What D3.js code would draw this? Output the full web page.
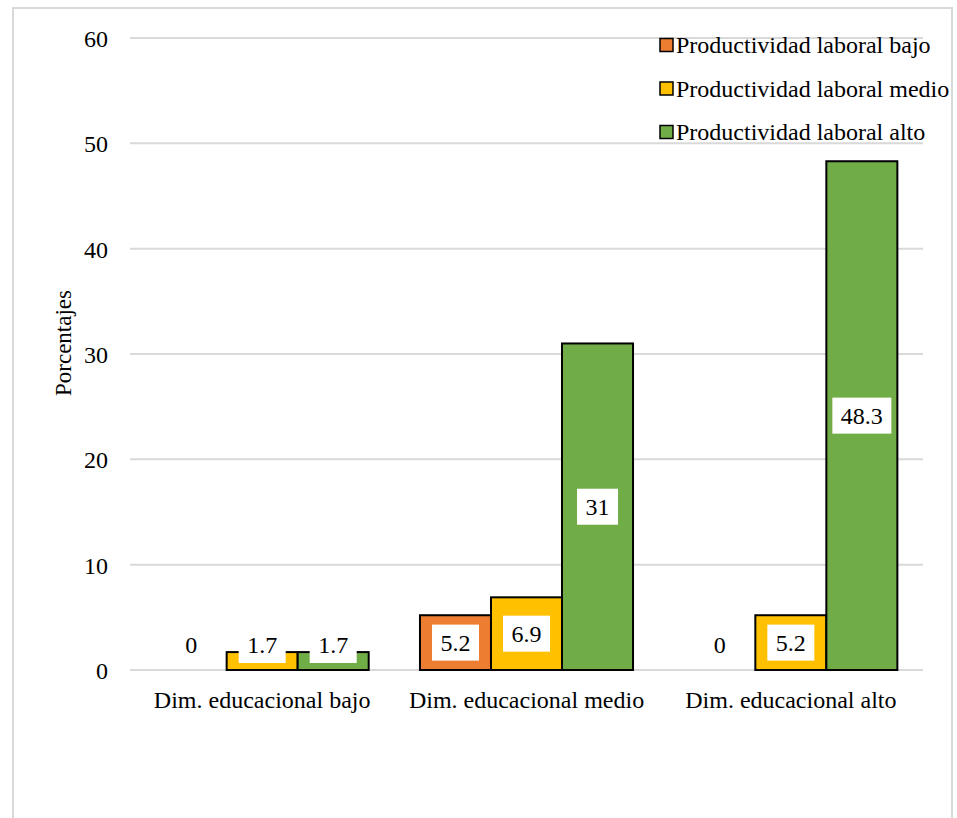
<!DOCTYPE html>
<html>
<head>
<meta charset="utf-8">
<script src="https://cdn.jsdelivr.net/npm/d3@7"></script>
<style>
  html, body { margin: 0; padding: 0; background: #fff; }
  svg { display: block; }
  text { font-family: "Liberation Serif", "Times New Roman", serif; fill: #000; }
</style>
</head>
<body>
<svg id="chart" width="957" height="818"></svg>
<script>
const categories = ["Dim. educacional bajo", "Dim. educacional medio", "Dim. educacional alto"];
const seriesNames = ["Productividad laboral bajo", "Productividad laboral medio", "Productividad laboral alto"];
const valuesBajo = [0, 5.2, 0];
const valuesMedio = [1.7, 6.9, 5.2];
const valuesAlto = [1.7, 31, 48.3];
const yTicks = [0, 10, 20, 30, 40, 50, 60];
const colors = ["#ED7D31", "#FFC000", "#70AD47"];

const seriesValues = [valuesBajo, valuesMedio, valuesAlto];
const svg = d3.select("#chart");
const FONT = '"Liberation Serif", "Times New Roman", serif';

// outer border
svg.append("rect").attr("x", 13).attr("y", 8).attr("width", 939).attr("height", 830)
  .attr("fill", "#fff").attr("stroke", "#d9d9d9").attr("stroke-width", 2);

const plot = { left: 130, right: 923, top: 38, bottom: 670 };

const y = d3.scaleLinear().domain([0, 60]).range([plot.bottom, plot.top]);
const x0 = d3.scaleBand().domain(categories).range([plot.left, plot.right])
  .paddingInner(0.194).paddingOuter(0.097);
const x1 = d3.scaleBand().domain(seriesNames).range([0, x0.bandwidth()]).padding(0);

// gridlines
svg.append("g").selectAll("line").data(yTicks).join("line")
  .attr("x1", plot.left).attr("x2", plot.right)
  .attr("y1", d => y(d)).attr("y2", d => y(d))
  .attr("stroke", "#d9d9d9").attr("stroke-width", 2);

// y axis labels
const yAxis = d3.axisLeft(y).tickValues(yTicks).tickSize(0).tickPadding(0);
const gy = svg.append("g").attr("transform", `translate(108,0)`).call(yAxis);
gy.attr("font-family", null).attr("font-size", null);
gy.select(".domain").remove();
gy.selectAll("text").style("font-family", FONT).style("font-size", "24px").attr("fill", "#000").attr("dy", "0.35em");

// x axis labels
const xAxis = d3.axisBottom(x0).tickSize(0).tickPadding(0);
const gx = svg.append("g").attr("transform", `translate(0,${plot.bottom})`).call(xAxis);
gx.attr("font-family", null).attr("font-size", null);
gx.select(".domain").remove();
gx.selectAll("text").style("font-family", FONT).style("font-size", "24px")
  .attr("fill", "#000").attr("y", 30).attr("dy", "0.35em");

// y axis title
svg.append("text").attr("transform", `translate(63,343) rotate(-90)`)
  .attr("text-anchor", "middle").attr("dy", "0.35em").style("font-family", FONT).style("font-size", "23px").text("Porcentajes");

// bars
const data = [];
categories.forEach((c, ci) => seriesNames.forEach((s, si) => data.push({ c, s, si, v: seriesValues[si][ci] })));

const bars = svg.append("g");
bars.selectAll("rect").data(data.filter(d => d.v > 0)).join("rect")
  .attr("x", d => x0(d.c) + x1(d.s))
  .attr("y", d => y(d.v))
  .attr("width", x1.bandwidth())
  .attr("height", d => y(0) - y(d.v))
  .attr("fill", d => colors[d.si])
  .attr("stroke", "#000").attr("stroke-width", 2);

// labels
const lg = svg.append("g");
data.forEach(d => {
  const cx = x0(d.c) + x1(d.s) + x1.bandwidth() / 2;
  let cy = (y(d.v) + y(0)) / 2;
  cy = Math.min(cy, plot.bottom - 25);
  const g = lg.append("g");
  const t = g.append("text").attr("x", cx).attr("y", cy).attr("text-anchor", "middle")
    .attr("dy", "0.35em").style("font-family", FONT).style("font-size", "24px").text(d.v);
  if (d.v > 0) {
    const bb = t.node().getBBox();
    const w = bb.width + 17;
    g.insert("rect", "text").attr("x", cx - w / 2).attr("y", cy - 18).attr("width", w).attr("height", 36)
      .attr("fill", "#fff");
  }
});

// legend
const leg = svg.append("g");
seriesNames.forEach((s, i) => {
  const cy = 45 + i * 43.5;
  leg.append("rect").attr("x", 660).attr("y", cy - 6.5).attr("width", 13).attr("height", 13)
    .attr("fill", colors[i]).attr("stroke", "#000").attr("stroke-width", 1.5);
  leg.append("text").attr("x", 676).attr("y", cy).attr("dy", "0.35em")
    .style("font-family", FONT).style("font-size", "24px").text(s);
});
</script>
</body>
</html>
